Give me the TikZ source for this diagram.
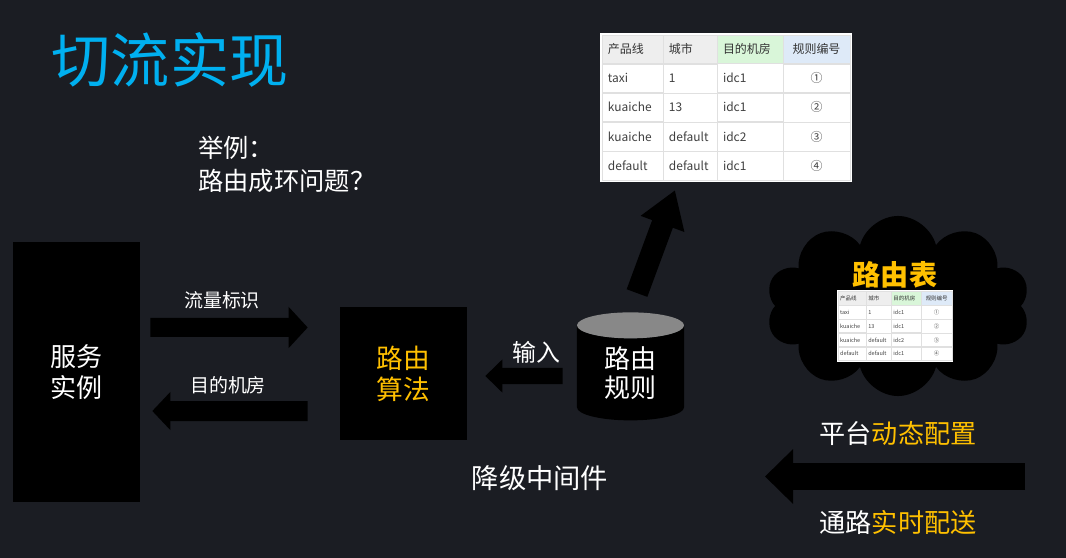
\documentclass[tikz,border=0pt]{standalone}
\usepackage{fontspec}
\setmainfont{Noto Sans CJK SC}
\usetikzlibrary{arrows.meta,positioning,matrix,shapes.geometric,shapes.symbols}
\definecolor{slide}{RGB}{27,29,35}
\definecolor{titlecyan}{RGB}{0,176,240}
\definecolor{hiyellow}{RGB}{255,192,0}
\definecolor{lidgray}{RGB}{136,136,136}
\definecolor{headgray}{RGB}{238,238,238}
\definecolor{headgreen}{RGB}{217,246,217}
\definecolor{headblue}{RGB}{222,234,248}

\begin{document}
\begin{tikzpicture}[
    x=0.025cm, y=-0.025cm,
    txt/.style={text=white, inner sep=0pt, align=center},
    blk/.style={txt, fill=black},
    fatarrow/.style n args={3}{draw=black, line width=#1, -{Triangle[length=#2, width=#3]}},
    cell/.style={draw=black!12, fill=white, text=black!75, inner ysep=0pt, align=left}
  ]
    \fill[slide] (0,0) rectangle (1066,558);
    \node[txt, text=titlecyan, font=\fontsize{42}{48}\selectfont] (title) at (170,60) {切流实现};
    \node[txt, anchor=west, align=left, font=\fontsize{18}{23.5}\selectfont] (example) at (198,164) {举例：\\路由成环问题？};

    \node[blk, minimum width=3.175cm, minimum height=6.5cm, font=\fontsize{18.5}{22}\selectfont] (svc) at (76.5,372) {服务\\实例};
    \node[blk, text=hiyellow, minimum width=3.175cm, minimum height=3.325cm, font=\fontsize{19}{22}\selectfont] (algo) at (403.5,373.5) {路由\\算法};
    \node[cylinder, shape border rotate=90, aspect=0.5, minimum width=2.675cm, minimum height=2.7cm,
      cylinder uses custom fill, cylinder body fill=black, cylinder end fill=lidgray,
      txt, font=\fontsize{18.5}{21}\selectfont] (store) at (630.5,373) {路由\\规则};

    \node[txt, font=\fontsize{13.5}{16}\selectfont] (flowtag) at (222,300) {流量标识};
    \node[txt, font=\fontsize{13.5}{16}\selectfont] (destidc) at (228,385) {目的机房};
    \node[txt, font=\fontsize{17}{20}\selectfont] (input) at (536,352) {输入};
    \node[txt, font=\fontsize{19.4}{22}\selectfont] (degrade) at (540,478) {降级中间件};

    \draw[fatarrow={0.475cm}{0.475cm}{1.0cm}, shorten <=0.25cm, shorten >=0.8cm]
      ([yshift=1.1125cm]svc.east) -- ([yshift=1.15cm]algo.west);
    \draw[fatarrow={0.5cm}{0.45cm}{0.925cm}, shorten <=0.8cm, shorten >=0.3cm]
      ([yshift=-0.9375cm]algo.west) -- ([yshift=-0.975cm]svc.east);
    \draw[fatarrow={0.4cm}{0.425cm}{0.8cm}, shorten <=0.35cm, shorten >=0.45cm]
      ([yshift=-0.075cm]store.west) -- ([yshift=-0.0625cm]algo.east);

    % rule table
    \matrix[matrix of nodes, fill=white, inner sep=1pt, column sep=-0.4pt, row sep=-0.4pt,
      nodes={cell, font=\fontsize{8.5}{10}\selectfont, minimum height=0.72cm, inner xsep=0.15cm},
      column 1/.style={nodes={text width=1.225cm}},
      column 2/.style={nodes={text width=1.05cm}},
      column 3/.style={nodes={text width=1.35cm}},
      column 4/.style={nodes={text width=1.375cm, align=center}},
      row 1/.style={nodes={fill=headgray, text=black!80}},
      row 1 column 3/.style={nodes={fill=headgreen}},
      row 1 column 4/.style={nodes={fill=headblue}}] (rules) at (726,107.5)
    {
      产品线 & 城市 & 目的机房 & 规则编号 \\
      taxi & 1 & idc1 & ① \\
      kuaiche & 13 & idc1 & ② \\
      kuaiche & default & idc2 & ③ \\
      default & default & idc1 & ④ \\
    };
    \draw[fatarrow={0.55cm}{0.9cm}{1.1cm}]
      ([xshift=0.1625cm,yshift=0.475cm]store.north) -- ([xshift=-1.275cm,yshift=-0.2cm]rules.south);

    % routing table cloud
    \node[cloud, cloud puffs=10, cloud ignores aspect, fill=black, minimum width=6.6cm, minimum height=4.5cm] (cloud) at (898,306) {};
    \node[txt, text=hiyellow, font=\fontsize{20}{24}\selectfont\bfseries] (tablename) at (895,275) {路由表};
    \matrix[matrix of nodes, fill=white, inner sep=0.5pt, column sep=-0.3pt, row sep=-0.3pt,
      nodes={cell, font=\fontsize{3.9}{4.5}\selectfont, minimum height=0.34cm, inner xsep=0.06cm},
      column 1/.style={nodes={text width=0.58cm}},
      column 2/.style={nodes={text width=0.505cm}},
      column 3/.style={nodes={text width=0.63cm}},
      column 4/.style={nodes={text width=0.655cm, align=center}},
      row 1/.style={nodes={fill=headgray, text=black!80}},
      row 1 column 3/.style={nodes={fill=headgreen}},
      row 1 column 4/.style={nodes={fill=headblue}}] (minirules) at (895,326)
    {
      产品线 & 城市 & 目的机房 & 规则编号 \\
      taxi & 1 & idc1 & ① \\
      kuaiche & 13 & idc1 & ② \\
      kuaiche & default & idc2 & ③ \\
      default & default & idc1 & ④ \\
    };

    % config channel
    \coordinate (pushfrom) at (1025,476.5);
    \coordinate (pushto) at (765,476.5);
    \draw[fatarrow={0.675cm}{0.7cm}{1.325cm}] (pushfrom) -- (pushto);
    \node[txt, font=\fontsize{18.6}{22}\selectfont] (platform) at (898,433) {平台\textcolor{hiyellow}{动态配置}};
    \node[txt, font=\fontsize{18.6}{22}\selectfont] (channel) at (898,522) {通路\textcolor{hiyellow}{实时配送}};
\end{tikzpicture}
\end{document}
